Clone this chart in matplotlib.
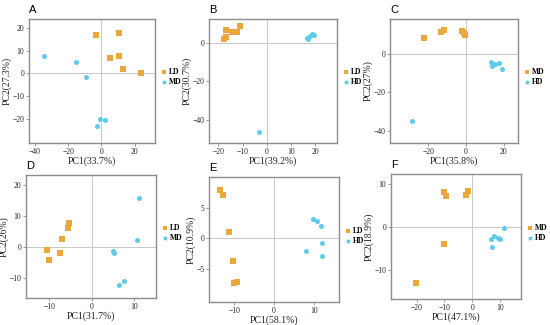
import matplotlib.pyplot as plt

ORANGE = "#EBA83A"
CYAN = "#5ECBEA"

# panel A
a_ld_x = [-3.0, 10.8, 5.4, 10.4, 13.2, 23.8]
a_ld_y = [16.8, 17.8, 6.9, 7.5, 2.1, 0.3]
a_md_x = [-34.6, -15.2, -9.6, -0.6, 2.4, -2.6]
a_md_y = [7.5, 5.1, -1.6, -19.9, -20.6, -23.1]

# panel B
b_ld_x = [-17.8, -17.0, -17.0, -14.5, -12.3, -10.9]
b_ld_y = [1.7, 3.1, 6.4, 5.4, 5.4, 8.8]
b_hd_x = [16.7, 17.2, 17.9, 18.8, 19.7, -3.2]
b_hd_y = [2.4, 1.7, 3.3, 4.3, 3.8, -46.6]

# panel C
c_md_x = [-22.5, -13.2, -11.8, -1.9, -1.2, -0.7]
c_md_y = [7.9, 11.0, 12.3, 11.7, 10.6, 9.6]
c_hd_x = [13.2, 13.9, 15.3, 17.2, 19.0, -28.4]
c_hd_y = [-4.1, -6.5, -5.3, -4.8, -7.7, -34.5]

# panel D
d_ld_x = [-5.4, -5.5, -7.1, -7.4, -10.5, -10.0]
d_ld_y = [7.6, 6.0, 2.5, -2.0, -1.1, -4.1]
d_md_x = [11.1, 10.6, 4.9, 5.3, 7.5, 6.4]
d_md_y = [15.9, 2.4, -1.2, -1.8, -10.9, -12.2]

# panel E
e_ld_x = [-13.5, -12.7, -11.3, -10.3, -10.0, -9.4]
e_ld_y = [7.9, 7.1, 1.1, -3.7, -7.4, -7.2]
e_hd_x = [9.8, 10.7, 11.8, 12.0, 8.1, 12.0]
e_hd_y = [3.1, 2.9, 2.1, -0.7, -2.1, -2.9]

# panel F
f_md_x = [-10.0, -9.4, -1.7, -2.2, -10.2, -20.2]
f_md_y = [8.3, 7.3, 8.4, 7.4, -4.0, -12.9]
f_hd_x = [11.6, 7.8, 6.9, 9.4, 10.0, 7.3]
f_hd_y = [-0.2, -2.0, -2.8, -2.6, -2.8, -4.7]

panels = [
    ("A", a_ld_x, a_ld_y, a_md_x, a_md_y, ("LD", "MD"), "PC1(33.7%)", "PC2(27.3%)",
     (-43.6, 32.2), (-30.7, 24.0), [-40, -20, 0, 20], [-20, -10, 0, 10, 20], (29, 155, 19, 143)),
    ("B", b_ld_x, b_ld_y, b_hd_x, b_hd_y, ("LD", "HD"), "PC1(39.2%)", "PC2(30.7%)",
     (-23.9, 29.0), (-52.2, 12.3), [-20, -10, 0, 10, 20], [-40, -20, 0], (209, 337, 19, 143)),
    ("C", c_md_x, c_md_y, c_hd_x, c_hd_y, ("MD", "HD"), "PC1(35.8%)", "PC2(27%)",
     (-40.3, 27.5), (-46.0, 17.8), [-20, 0, 20], [-40, -20, 0], (390, 518, 19, 143)),
    ("D", d_ld_x, d_ld_y, d_md_x, d_md_y, ("LD", "MD"), "PC1(31.7%)", "PC2(26%)",
     (-15.5, 15.1), (-16.4, 23.2), [-10, 0, 10], [-10, 0, 10, 20], (26, 156, 175, 298)),
    ("E", e_ld_x, e_ld_y, e_hd_x, e_hd_y, ("LD", "HD"), "PC1(58.1%)", "PC2(10.9%)",
     (-16.3, 16.3), (-10.5, 10.1), [-10, 0, 10], [-5, 0, 5], (209, 339, 177, 302)),
    ("F", f_md_x, f_md_y, f_hd_x, f_hd_y, ("MD", "HD"), "PC1(47.1%)", "PC2(18.9%)",
     (-29.3, 17.6), (-16.7, 12.4), [-20, -10, 0, 10], [-10, 0, 10], (391, 521, 174, 299)),
]

W, H = 550, 325
fig = plt.figure(figsize=(W / 100, H / 100), dpi=100)
serif = "Liberation Serif"

for (letter, x1, y1, x2, y2, names, xlab, ylab, xlim, ylim, xt, yt, box) in panels:
    l, r, t, b = box
    ax = fig.add_axes([l / W, (H - b) / H, (r - l) / W, (b - t) / H])
    ax.axhline(0, color="#c8c8c8", lw=0.7, zorder=0)
    ax.axvline(0, color="#c8c8c8", lw=0.7, zorder=0)
    ax.scatter(x1, y1, marker="s", s=13, color=ORANGE, linewidths=0, label=names[0])
    ax.scatter(x2, y2, marker="o", s=13, color=CYAN, linewidths=0, label=names[1])
    ax.set_xlim(xlim)
    ax.set_ylim(ylim)
    ax.set_xticks(xt)
    ax.set_yticks(yt)
    for s in ax.spines.values():
        s.set_color("#8c8c8c")
        s.set_linewidth(1.0)
    ax.tick_params(length=2, width=0.6, color="#8c8c8c", pad=1.5, labelsize=5.5)
    for lab in ax.get_xticklabels() + ax.get_yticklabels():
        lab.set_family(serif)
        lab.set_color("#222222")
    ax.set_xlabel(xlab, family=serif, fontsize=7, labelpad=0.5, color="#222222")
    ax.set_ylabel(ylab, family=serif, fontsize=7, labelpad=0.5, color="#222222")
    ax.text(0.0, 1.03, letter, transform=ax.transAxes, family="Liberation Sans",
            fontsize=8, ha="left", va="bottom")
    leg = ax.legend(loc="center left", bbox_to_anchor=(1.0, 0.53), frameon=False,
                    prop={"family": serif, "weight": "bold", "size": 5.5},
                    handletextpad=0.1, handlelength=1.0, labelspacing=0.25,
                    borderaxespad=0.3, markerscale=0.8)

fig.savefig("out.png", dpi=100)
